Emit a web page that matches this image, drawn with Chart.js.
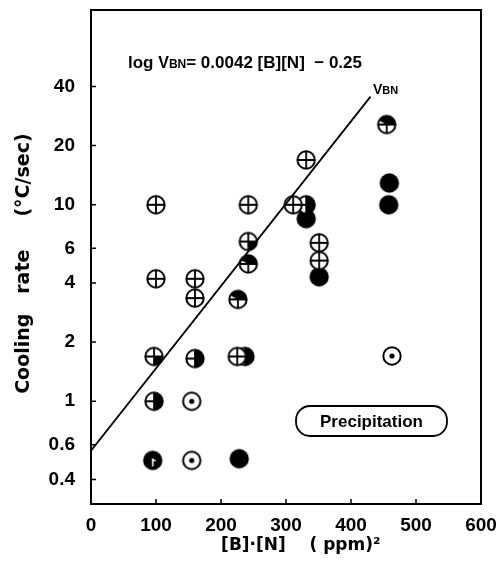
<!DOCTYPE html>
<html>
<head>
<meta charset="utf-8">
<script src="https://cdn.jsdelivr.net/npm/chart.js@4.4.1/dist/chart.umd.min.js"></script>
<style>
  html,body{margin:0;padding:0;background:#fff;}
  #wrap{width:502px;height:576px;position:relative;}
</style>
</head>
<body>
<div id="wrap"><canvas id="chart"></canvas></div>
<script>
// tick labels
var xTicks=[0,100,200,300,400,500,600]
var yTicks=[0.4,0.6,1,2,4,6,10,20,40]

// open crossed circles
var openX=[100,100,160,160,242,311,331,351,351,225]
var openY=[10,4.2,4.2,3.35,10,10,16.9,6.4,5.2,1.69]
// crossed circle, lower right quarter black
var quarterLowX=[97,242]
var quarterLowY=[1.69,6.5]
// crossed circle, upper quarter black
var quarterUpX=[242,455,226]
var quarterUpY=[5.0,25.6,3.3]
// right half black
var halfX=[160,97,237,331]
var halfY=[1.65,1.0,1.69,10]
// full black
var solidX=[331,351,459,458,228]
var solidY=[8.5,4.3,12.9,10,0.51]
// black with little white cross
var mostlyX=[95]
var mostlyY=[0.5]
// circle with dot
var dotX=[155,155,463]
var dotY=[1.0,0.5,1.7]

// V_BN line end points
var lineX=[0,430]
var lineY=[0.56,35.5]

function pts(xs,ys){
  let out=[]
  for(let i=0;i<xs.length;i++){
    out.push({x:xs[i],y:ys[i]})
  }
  return out
}

// small canvases used as point styles
function marker(kind){
  const c=document.createElement("canvas")
  c.width=22
  c.height=22
  const g=c.getContext("2d")
  const r=8.7
  g.translate(11,11)
  g.lineWidth=2
  g.strokeStyle="#000"
  g.fillStyle="#fff"
  g.beginPath(); g.arc(0,0,r,0,Math.PI*2); g.fill()
  g.fillStyle="#000"
  if(kind=="solid" || kind=="mostly"){
    g.beginPath(); g.arc(0,0,r+1,0,Math.PI*2); g.fill()
  }
  if(kind=="half"){
    g.beginPath(); g.moveTo(0,-r); g.arc(0,0,r,-Math.PI/2,Math.PI/2); g.closePath(); g.fill()
  }
  if(kind=="qlow"){
    g.beginPath(); g.moveTo(0,0); g.arc(0,0,r,0,Math.PI/2); g.closePath(); g.fill()
  }
  if(kind=="qup"){
    g.beginPath(); g.moveTo(0,0); g.arc(0,0,r,-Math.PI*0.85,-Math.PI*0.05); g.closePath(); g.fill()
  }
  if(kind!="solid" && kind!="mostly"){
    g.beginPath(); g.arc(0,0,r,0,Math.PI*2); g.stroke()
  }
  if(kind=="open" || kind=="qlow" || kind=="qup" || kind=="half"){
    g.lineWidth=1.8
    g.beginPath()
    g.moveTo(-r,0); g.lineTo(kind=="half"?0:r,0)
    g.moveTo(0,-r); g.lineTo(0,r)
    g.stroke()
  }
  if(kind=="mostly"){
    g.strokeStyle="#fff"
    g.lineWidth=1.5
    g.beginPath()
    g.moveTo(0,-2); g.lineTo(0,6)
    g.moveTo(-1,0); g.lineTo(3,0)
    g.stroke()
  }
  if(kind=="dot"){
    g.beginPath(); g.arc(0,0,2.6,0,Math.PI*2); g.fill()
  }
  return c
}

function scatterSet(label,xs,ys,kind){
  return {
    type:'scatter',
    label:label,
    data:pts(xs,ys),
    pointStyle:marker(kind),
    pointRadius:9,
    showLine:false
  }
}

const FONT="'Liberation Sans', Arial, sans-serif"
const WIDE="'DejaVu Sans', sans-serif"

// frame, inward ticks and the notes inside the plot
const decor={
  id:'decor',
  afterDraw(chart){
    const ctx=chart.ctx
    const a=chart.chartArea
    const xs=chart.scales.x
    const ys=chart.scales.y
    ctx.save()
    ctx.strokeStyle="#000"
    ctx.lineWidth=2
    ctx.strokeRect(a.left,a.top,a.right-a.left,a.bottom-a.top)
    ctx.lineWidth=1.5
    ctx.beginPath()
    for(let v of yTicks){
      const py=ys.getPixelForValue(v)
      ctx.moveTo(a.left,py); ctx.lineTo(a.left+5,py)
    }
    for(let v of xTicks){
      const px=xs.getPixelForValue(v)
      ctx.moveTo(px,a.bottom); ctx.lineTo(px,a.bottom-5)
    }
    ctx.stroke()

    // equation
    ctx.fillStyle="#000"
    ctx.textBaseline="alphabetic"
    ctx.textAlign="left"
    let x=128, y=68
    ctx.font="bold 17px "+FONT
    ctx.fillText("log",x,y); x+=ctx.measureText("log ").width
    ctx.font="bold 16px "+FONT
    ctx.fillText("V",x,y); x+=ctx.measureText("V").width
    ctx.font="bold 12px "+FONT
    ctx.fillText("BN",x,y); x+=ctx.measureText("BN").width
    ctx.font="bold 17px "+FONT
    ctx.fillText("= 0.0042 [B][N]  \u2212 0.25",x,y)

    // V_BN label
    x=373; y=94
    ctx.font="bold 14px "+FONT
    ctx.fillText("V",x,y); x+=ctx.measureText("V").width
    ctx.font="bold 11px "+FONT
    ctx.fillText("BN",x,y)

    // Precipitation box
    const bx=296, by=406, bw=151, bh=30
    ctx.lineWidth=1.8
    ctx.beginPath()
    ctx.roundRect(bx,by,bw,bh,14)
    ctx.stroke()
    ctx.font="bold 17px "+FONT
    ctx.textAlign="center"
    ctx.textBaseline="middle"
    ctx.fillText("Precipitation",bx+bw/2,by+bh/2+1)
    ctx.restore()
  }
}

const config={
  type:'scatter',
  data:{
    datasets:[
      {
        type:'line',
        label:'VBN',
        data:pts(lineX,lineY),
        borderColor:'#000',
        borderWidth:1.8,
        pointRadius:0,
        fill:false
      },
      scatterSet('open',openX,openY,'open'),
      scatterSet('quarter low',quarterLowX,quarterLowY,'qlow'),
      scatterSet('quarter up',quarterUpX,quarterUpY,'qup'),
      scatterSet('half',halfX,halfY,'half'),
      scatterSet('solid',solidX,solidY,'solid'),
      scatterSet('mostly',mostlyX,mostlyY,'mostly'),
      scatterSet('dot',dotX,dotY,'dot')
    ]
  },
  options:{
    responsive:false,
    animation:false,
    layout:{padding:{left:0,right:21,top:10,bottom:16}},
    plugins:{legend:{display:false},tooltip:{enabled:false}},
    scales:{
      x:{
        type:'linear',
        min:0,max:600,
        afterBuildTicks(scale){ scale.ticks=xTicks.map(v=>({value:v})) },
        afterFit(scale){ scale.height=56; scale.paddingLeft=0; scale.paddingRight=0 },
        grid:{display:false,drawTicks:false},
        border:{display:false},
        ticks:{color:'#000',padding:10,maxRotation:0,font:{family:FONT,size:19,weight:'bold'}},
        title:{display:true,text:'     [B]\u00b7[N]    ( ppm)\u00b2',color:'#000',padding:{top:2,bottom:4},font:{family:WIDE,size:17,weight:'bold'}}
      },
      y:{
        type:'logarithmic',
        min:0.31,max:98,
        afterBuildTicks(scale){ scale.ticks=yTicks.map(v=>({value:v})) },
        afterFit(scale){ scale.width=91; scale.paddingTop=0; scale.paddingBottom=0 },
        grid:{display:false,drawTicks:false},
        border:{display:false},
        ticks:{color:'#000',padding:16,font:{family:FONT,size:19,weight:'bold'},callback:(v)=>String(v)},
        title:{display:true,text:'Cooling   rate     (\u00b0C/sec)  ',color:'#000',padding:{top:13},font:{family:WIDE,size:19,weight:'bold'}}
      }
    }
  },
  plugins:[decor]
}

const zone=document.getElementById("chart")
zone.width=502
zone.height=576
const graphe=new Chart(zone,config)
</script>
</body>
</html>
